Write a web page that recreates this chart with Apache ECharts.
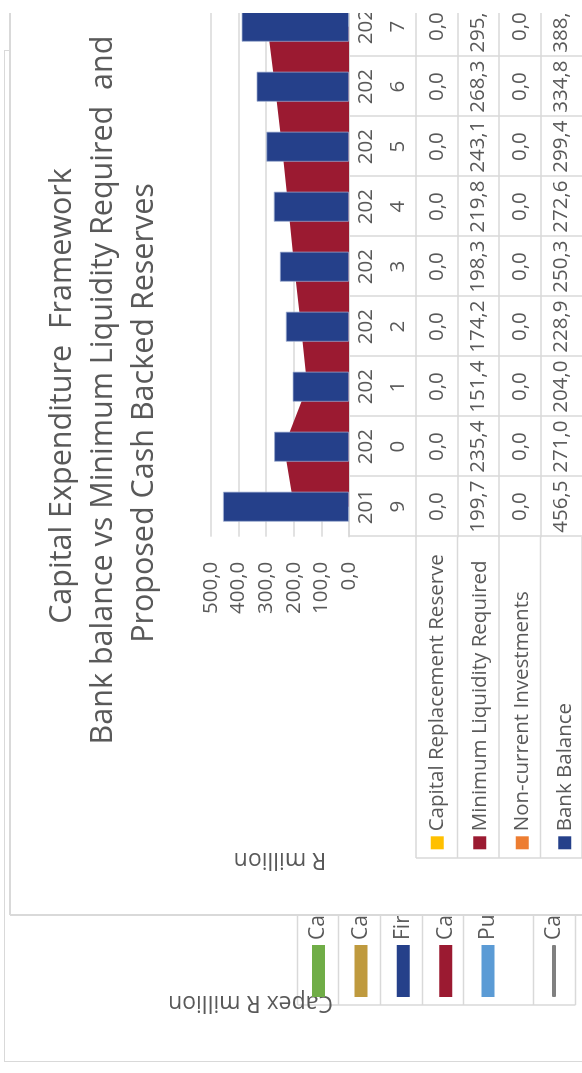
<!DOCTYPE html>
<html>
<head>
<meta charset="utf-8">
<script src="https://cdn.jsdelivr.net/npm/echarts@6/dist/echarts.min.js"></script>
<style>
  html, body { margin:0; padding:0; width:582px; height:1073px; overflow:hidden; background:#fff; }
  #page { position:absolute; left:0; top:0; width:1073px; height:582px; overflow:hidden; background:#fff;
          transform-origin:0 0; transform: translateY(1073px) rotate(-90deg); }
  #backBox { position:absolute; left:11px; top:3.5px; width:1012px; height:700px; border:1.5px solid #d9d9d9; box-sizing:border-box; }
  #back { position:absolute; left:11px; top:3.5px; width:1012px; height:640px; }
  #frontWrap { position:absolute; left:158px; top:10px; width:902px; height:600px; overflow:hidden; background:#fff; }
  #front { position:absolute; left:0; top:0; width:960px; height:600px; }
  .ln { position:absolute; background:#d9d9d9; }
</style>
</head>
<body>
<div id="page">
  <div id="backBox"></div>
  <div id="back"></div>
  <div id="frontWrap"><div id="front"></div></div>
  <div class="ln" style="left:157.25px; top:10px; width:1.5px; height:600px;"></div>
  <div class="ln" style="left:158px; top:9.25px; width:902px; height:1.5px;"></div>
</div>
<script>
// ---------------- data ----------------
const categories = ['2019', '2020', '2021', '2022', '2023', '2024', '2025', '2026', '2027'];
const capitalReplacementReserve = [0, 0, 0, 0, 0, 0, 0, 0, 0];
const minimumLiquidityRequired = [199.7, 235.4, 151.4, 174.2, 198.3, 219.8, 243.1, 268.3, 295.6];
const nonCurrentInvestments = [0, 0, 0, 0, 0, 0, 0, 0, 0];
const bankBalance = [456.5, 271.0, 204.0, 228.9, 250.3, 272.6, 299.4, 334.8, 388.8];
const valueAxisMin = 0, valueAxisMax = 500, valueAxisStep = 100;
const titleLines = ['Capital Expenditure  Framework', 'Bank balance vs Minimum Liquidity Required  and', 'Proposed Cash Backed Reserves'];
const yAxisTitle = 'R million';
const seriesNames = ['Capital Replacement Reserve', 'Minimum Liquidity Required', 'Non-current Investments', 'Bank Balance'];
// background chart (only its legend and axis title are visible)
const backSeriesNames = ['Capital Grants', 'Capital Replacement Reserve ', 'Financing', 'Capital Contributions', 'Public Contributions', 'Capex Total'];
const backYAxisTitle = 'Capex R million';

// ---------------- styles ----------------
const FONT = '"Open Sans", sans-serif';
const TXT = '#595959';
const LINE = '#d9d9d9';
const colors = { crr: '#FFC000', mlr: '#9B1A31', nci: '#ED7D31', bb: '#25408A' };
const backColors = ['#70AD47', '#BF9A3E', '#25408A', '#9B1A31', '#5B9BD5', '#808080'];
const fmt = v => v.toFixed(1).replace('.', ',');

// ---------------- front chart ----------------
const G = { left: 378.3, top: 201, width: 540, height: 138 };
const headerH = 67, rowH = 41.5;
const tableRows = [capitalReplacementReserve, minimumLiquidityRequired, nonCurrentInvestments, bankBalance];
const lineStyle = { color: LINE, width: 1.5 };
const tableFont = 20.5;
const titleCenters = [519, 525, 502];

const xAxes = [{
  type: 'category', data: categories, gridIndex: 0, position: 'bottom', boundaryGap: true,
  axisLine: { show: true, lineStyle },
  axisTick: { show: true, interval: 0, length: headerH, lineStyle },
  axisLabel: { interval: 0, formatter: v => v.slice(0, 3) + '\n' + v.slice(3), verticalAlign: 'middle',
    margin: headerH / 2, lineHeight: 32, fontSize: tableFont, color: TXT, fontFamily: FONT }
}];
tableRows.forEach((row, k) => {
  xAxes.push({
    type: 'category', data: categories, gridIndex: 0, position: 'bottom', boundaryGap: true,
    offset: headerH + k * rowH,
    axisLine: { show: true, lineStyle },
    axisTick: { show: true, interval: 0, length: rowH, lineStyle },
    axisLabel: { interval: 0, formatter: (v, i) => fmt(row[i]), verticalAlign: 'middle',
      margin: rowH / 2, fontSize: tableFont, color: TXT, fontFamily: FONT }
  });
});

// legend column grid of the data table
const tblTop = G.top + G.height + headerH;
const legendColLeft = 57;
const tableGraphics = [];
for (let k = 0; k <= tableRows.length; k++) {
  const y = tblTop + k * rowH;
  tableGraphics.push({ type: 'line', shape: { x1: legendColLeft, y1: y, x2: G.left, y2: y }, style: { stroke: LINE, lineWidth: 1.5 } });
}
tableGraphics.push({ type: 'line', shape: { x1: legendColLeft, y1: tblTop, x2: legendColLeft, y2: tblTop + tableRows.length * rowH }, style: { stroke: LINE, lineWidth: 1.5 } });

const front = echarts.init(document.getElementById('front'), null, { renderer: 'canvas' });
front.setOption({
  animation: false,
  backgroundColor: '#fff',
  title: titleLines.map((t, i) => ({
    text: t, left: titleCenters[i], top: 31.5 + 41 * i, textAlign: 'center', padding: 0,
    textStyle: { fontSize: 30.5, lineHeight: 41, fontWeight: 'normal', color: TXT, fontFamily: FONT }
  })),
  grid: { left: G.left, top: G.top, width: G.width, height: G.height, containLabel: false },
  legend: {
    orient: 'vertical', left: 65.7, top: tblTop + rowH / 2 - 10, itemWidth: 13, itemHeight: 13,
    itemGap: rowH - 20, padding: 0, selectedMode: false, icon: 'rect',
    itemStyle: { borderWidth: 0 },
    data: seriesNames,
    textStyle: { fontSize: tableFont, lineHeight: 20, color: TXT, fontFamily: FONT }
  },
  xAxis: xAxes,
  yAxis: {
    type: 'value', min: valueAxisMin, max: valueAxisMax, interval: valueAxisStep,
    axisLine: { show: false }, axisTick: { show: false },
    splitLine: { lineStyle },
    axisLabel: { formatter: v => fmt(v), margin: 25, fontSize: tableFont, color: TXT, fontFamily: FONT },
    name: yAxisTitle, nameLocation: 'middle', nameGap: 311, nameRotate: 90,
    nameTextStyle: { fontSize: 23, color: TXT, fontFamily: FONT }
  },
  graphic: tableGraphics,
  series: [
    { name: seriesNames[0], type: 'bar', stack: 's', barWidth: 30, data: capitalReplacementReserve, itemStyle: { color: colors.crr }, z: 3 },
    { name: seriesNames[1], type: 'line', data: minimumLiquidityRequired, showSymbol: false, symbol: 'none',
      lineStyle: { width: 0, color: colors.mlr }, itemStyle: { color: colors.mlr },
      areaStyle: { color: colors.mlr, opacity: 1 }, z: 2 },
    { name: seriesNames[2], type: 'bar', stack: 's', barWidth: 30, data: nonCurrentInvestments, itemStyle: { color: colors.nci }, z: 3 },
    { name: seriesNames[3], type: 'bar', stack: 's', barWidth: 30, data: bankBalance,
      itemStyle: { color: colors.bb, borderColor: 'rgba(160,175,210,0.9)', borderWidth: 0.8 }, z: 3 }
  ]
});

// ---------------- back chart ----------------
const backLegendLines = [293.5, 334.5, 376.5, 418.5, 459.5, 529.5, 571.5];
const backGraphics = backLegendLines.map(y => ({ type: 'line', shape: { x1: 57, y1: y, x2: 200, y2: y }, style: { stroke: LINE, lineWidth: 1.5 } }));
backGraphics.push({ type: 'line', shape: { x1: 57, y1: backLegendLines[0], x2: 57, y2: backLegendLines[backLegendLines.length - 1] }, style: { stroke: LINE, lineWidth: 1.5 } });

const back = echarts.init(document.getElementById('back'), null, { renderer: 'canvas' });
back.setOption({
  animation: false,
  grid: { left: 389, top: 146.5, width: 500, height: 200 },
  xAxis: { type: 'category', data: categories, show: false },
  yAxis: {
    type: 'value', axisLabel: { show: false }, splitLine: { show: false }, axisLine: { show: false }, axisTick: { show: false },
    name: backYAxisTitle, nameLocation: 'middle', nameGap: 318, nameRotate: 90,
    nameTextStyle: { fontSize: 23, color: TXT, fontFamily: FONT }
  },
  legend: [{
    orient: 'vertical', left: 65, top: 304, itemWidth: 52, itemHeight: 13, itemGap: 21.4, padding: 0,
    selectedMode: false, icon: 'rect', data: backSeriesNames.slice(0, 5),
    textStyle: { fontSize: 21, lineHeight: 20, color: TXT, fontFamily: FONT }
  }, {
    orient: 'vertical', left: 65, top: 539.5, itemWidth: 52, itemHeight: 4, padding: 0,
    selectedMode: false, data: [{ name: backSeriesNames[5], icon: 'roundRect' }],
    textStyle: { fontSize: 21, lineHeight: 20, color: TXT, fontFamily: FONT }
  }],
  graphic: backGraphics,
  series: backSeriesNames.map((n, i) => i < 5
    ? { name: n, type: 'bar', stack: 'b', data: [], itemStyle: { color: backColors[i] } }
    : { name: n, type: 'line', data: [], itemStyle: { color: backColors[i] }, lineStyle: { color: backColors[i], width: 4 } })
});
</script>
</body>
</html>
